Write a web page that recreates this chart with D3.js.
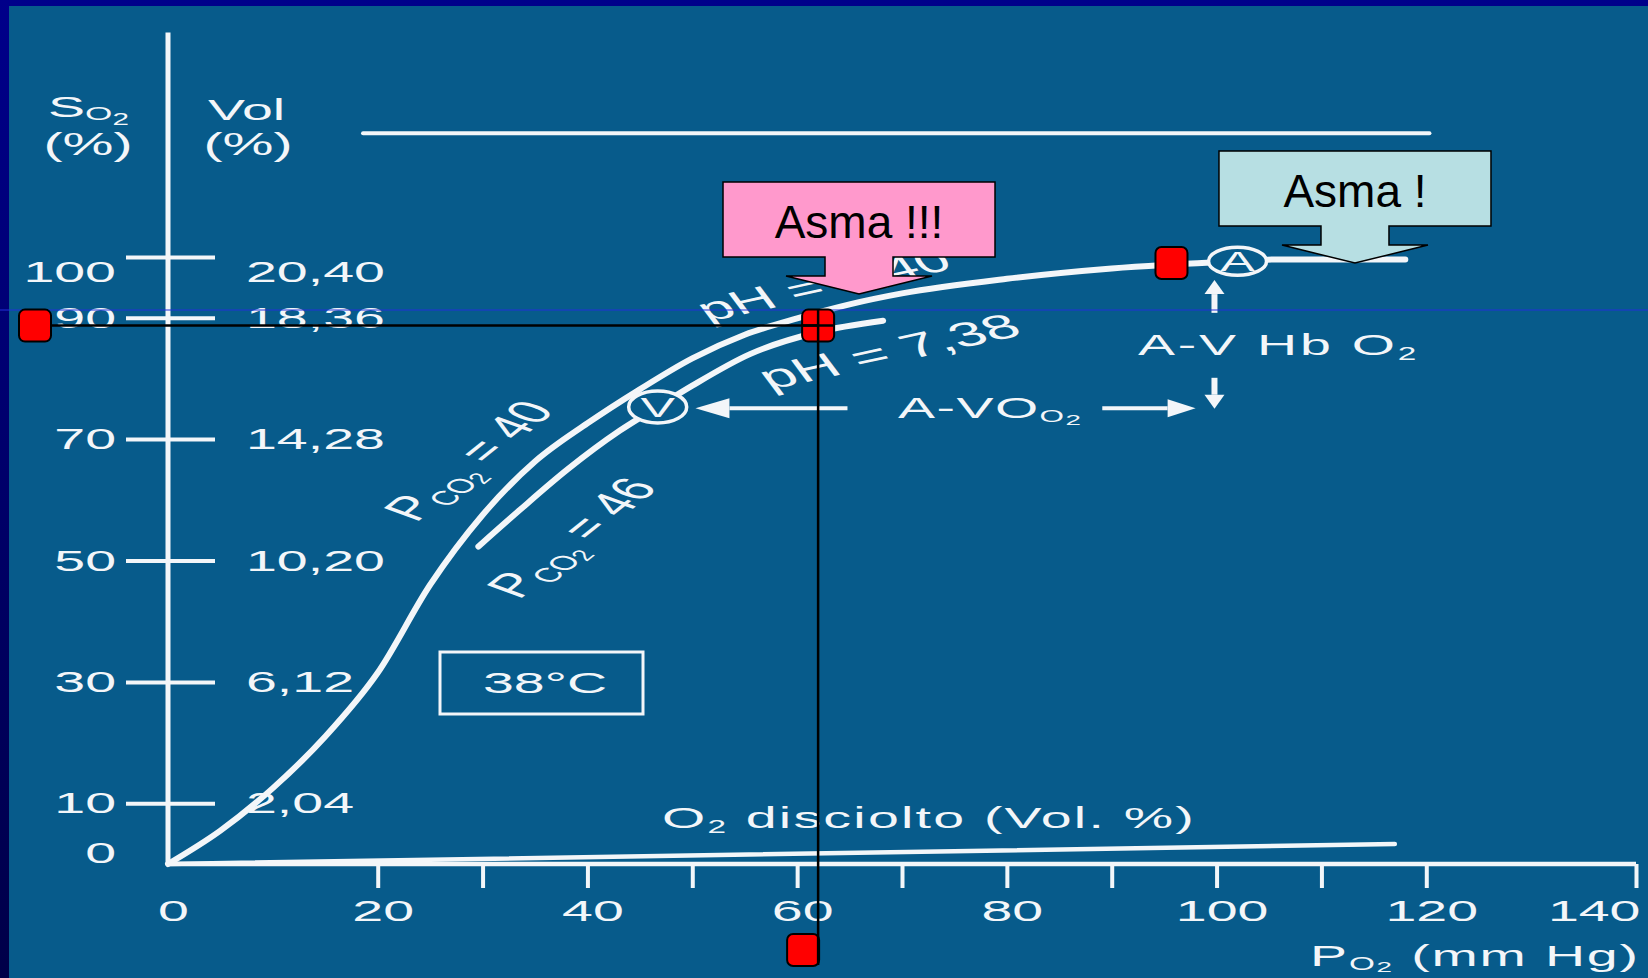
<!DOCTYPE html>
<html>
<head>
<meta charset="utf-8">
<script src="https://cdnjs.cloudflare.com/ajax/libs/d3/7.8.5/d3.min.js"></script>
<style>
html, body { margin: 0; padding: 0; background: #000070; }
svg { display: block; }
text { font-family: "Liberation Sans", Arial, sans-serif; }
</style>
</head>
<body>
<div id="chart"></div>
<script>
// left axis: S O2 (%), right axis: O2 content (Vol %)
var satTicks = [100, 90, 70, 50, 30, 10, 0];
var volLabels = ["20,40", "18,36", "14,28", "10,20", "6,12", "2,04"];
// bottom axis: P O2 (mm Hg)
var po2Ticks = [20, 30, 40, 50, 60, 70, 80, 90, 100, 110, 120, 140];
var po2Labels = [0, 20, 40, 60, 80, 100, 120, 140];

// dissociation curve pH 7,40 / PCO2 40   [PO2, SO2]
var curve740 = [[0, 0], [5, 5.5], [10, 12.5], [15, 21], [20, 31.5], [25, 46], [30, 57.5],
  [35, 66.3], [40, 72.6], [45, 78.2], [50, 83.3], [55, 87.2], [60, 89.9], [65, 92.2],
  [70, 94.0], [80, 96.4], [90, 98.1], [102, 99.3], [106, 99.6], [118, 99.6]];
// dissociation curve pH 7,38 / PCO2 46
var curve738 = [[29.6, 52.3], [33.6, 58.4], [38.1, 65.0], [43.1, 71.4], [46.7, 75.3],
  [50, 78.8], [55.5, 84.0], [61.9, 87.6], [68.2, 89.5]];
// dissolved O2  [PO2, Vol %]
var dissolved = [[0, 0], [117, 0.67]];
var capacityLine = [[18.6, 120.4], [120.3, 120.4]];
var arterial = [102, 99.3];
var venous = [46.7, 75.3];
var avo2Arrows = [[[64.8, 75.1], [50.3, 75.1]], [[89.1, 75.1], [98.0, 75.1]]];
var hbArrows = [[[99.8, 90.8], [99.8, 96.2]], [[99.8, 80.1], [99.8, 75.0]]];
// overlay: reading at 90 % and callouts
var asmaPoint = [62, 88.7];
var asmaTop = [95.7, 99.0];
var callouts = [
  {tip: [65.9, 93.9], text: "Asma !!!", fill: "#ff99cc"},
  {tip: [113.2, 99.0], text: "Asma !", fill: "#b7dfe3"}
];

var W = 1648, H = 978, SX = 1.85, INK = "#f3f6f9", BG = "#075b8b";

var x = d3.scaleLinear().domain([0, 140]).range([168, 1636]);
var y = d3.scaleLinear().domain([0, 100]).range([864, 257]);
var yVol = d3.scaleLinear().domain([0, 20.4]).range([864, 257]);

var svg = d3.select("#chart").append("svg").attr("width", W).attr("height", H);

var grad = svg.append("defs").append("linearGradient").attr("id", "slide")
    .attr("x1", 0).attr("y1", 0).attr("x2", 0).attr("y2", 1);
grad.append("stop").attr("offset", "0%").attr("stop-color", "#00008a");
grad.append("stop").attr("offset", "100%").attr("stop-color", "#000048");
svg.append("rect").attr("width", W).attr("height", H).attr("fill", "url(#slide)");
svg.append("rect").attr("x", 9).attr("y", 6).attr("width", W - 9).attr("height", H - 6).attr("fill", BG);

var g = svg.append("g");

// stretched text like the scanned figure
function sText(px, py, anchor, size) {
    return g.append("text")
        .attr("transform", "translate(" + px + "," + py + ") scale(" + SX + ",1)")
        .attr("text-anchor", anchor).attr("font-size", size).attr("fill", INK);
}
function slant(px, py, angle, size) {
    return g.append("text")
        .attr("transform", "translate(" + px + "," + py + ") scale(" + SX + ",1) rotate(" + angle + ")")
        .attr("font-size", size).attr("fill", INK);
}
function stretchTicks(sel) {
    sel.selectAll("text").each(function() {
        var t = d3.select(this), tx = +t.attr("x") || 0;
        t.attr("x", 0).attr("transform", "translate(" + tx + ",0) scale(" + SX + ",1)");
    });
}
function styleAxis(ga) {
    ga.attr("font-size", 30).attr("font-family", null);
    ga.select(".domain").remove();
    ga.selectAll("line").attr("stroke", INK).attr("stroke-width", 4);
    ga.selectAll("text").attr("fill", INK);
}

// y axis line
g.append("line")
    .attr("x1", x(0)).attr("x2", x(0))
    .attr("y1", y(0)).attr("y2", y(137))
    .attr("stroke", INK).attr("stroke-width", 5);

var gl = g.append("g").attr("transform", "translate(" + x(0) + ",0)")
    .call(d3.axisLeft(y).tickValues(satTicks).tickSize(42).tickPadding(10));
styleAxis(gl);
gl.selectAll(".tick").filter(function(d) { return d === 0; }).select("line").remove();
gl.selectAll("text").attr("dy", function(d) { return d === 100 ? "0.8em" : d === 0 ? "-0.05em" : "0.32em"; });
stretchTicks(gl);

var gr = g.append("g").attr("transform", "translate(" + x(0) + ",0)")
    .call(d3.axisRight(y).tickValues(satTicks.slice(0, 6)).tickSize(47).tickPadding(31)
        .tickFormat(function(d, i) { return volLabels[i]; }));
styleAxis(gr);
gr.selectAll("text").attr("dy", function(d) { return d === 100 ? "0.8em" : "0.32em"; });
stretchTicks(gr);

// x axis
g.append("line")
    .attr("x1", x(0)).attr("x2", x(140))
    .attr("y1", y(0)).attr("y2", y(0))
    .attr("stroke", INK).attr("stroke-width", 4.5);
var gx = g.append("g").attr("transform", "translate(0," + y(0) + ")")
    .call(d3.axisBottom(x).tickValues(po2Ticks).tickSize(24).tickFormat(""));
styleAxis(gx);
var gxl = g.append("g").attr("transform", "translate(0," + y(0) + ")")
    .call(d3.axisBottom(x).tickValues(po2Labels).tickSize(0).tickPadding(36));
styleAxis(gxl);
gxl.selectAll(".tick").select("text").attr("x", 5);
gxl.selectAll(".tick").filter(function(d) { return d === 140; }).select("text")
    .attr("text-anchor", "end").attr("x", 4);
stretchTicks(gxl);

// axis titles
var t = sText(48, 117, "start", 30).text("S");
t.append("tspan").attr("font-size", 19).attr("dy", 3).text("O");
t.append("tspan").attr("font-size", 16).attr("dy", 5).text("2");
sText(88, 155, "middle", 31).text("(%)");
sText(208, 120, "start", 30).text("Vol");
sText(248, 155, "middle", 31).text("(%)");

t = sText(1310, 966, "start", 30).attr("letter-spacing", 1).text("P");
t.append("tspan").attr("font-size", 18).attr("dy", 4).text("O");
t.append("tspan").attr("font-size", 15).attr("dy", 2).text("2");
t.append("tspan").attr("font-size", 30).attr("dy", -6).text(" (mm Hg)");

// capacity line at the top
g.append("line")
    .attr("x1", x(capacityLine[0][0])).attr("y1", y(capacityLine[0][1]))
    .attr("x2", x(capacityLine[1][0])).attr("y2", y(capacityLine[1][1]))
    .attr("stroke", INK).attr("stroke-width", 4).attr("stroke-linecap", "round");

// dissolved O2
g.append("path")
    .datum(dissolved)
    .attr("d", d3.line().x(function(d) { return x(d[0]); }).y(function(d) { return yVol(d[1]); }))
    .attr("fill", "none").attr("stroke", INK).attr("stroke-width", 4.5).attr("stroke-linecap", "round");
t = sText(662, 828, "start", 30).attr("letter-spacing", 1.2).text("O");
t.append("tspan").attr("font-size", 18).attr("dy", 5).text("2");
t.append("tspan").attr("font-size", 30).attr("dy", -5).text(" disciolto (Vol. %)");

// dissociation curves
var line = d3.line()
    .x(function(d) { return x(d[0]); })
    .y(function(d) { return y(d[1]); })
    .curve(d3.curveMonotoneX);
g.append("path").datum(curve740).attr("d", line)
    .attr("fill", "none").attr("stroke", INK).attr("stroke-width", 6).attr("stroke-linecap", "round");
g.append("path").datum(curve738).attr("d", line)
    .attr("fill", "none").attr("stroke", INK).attr("stroke-width", 6).attr("stroke-linecap", "round");

// curve labels
t = slant(416, 523, -56, 33).text("P");
t.append("tspan").attr("font-size", 20).attr("dy", 6).text("CO");
t.append("tspan").attr("font-size", 16).attr("dy", 3).text("2");
t.append("tspan").attr("font-size", 33).attr("dy", -9).text(" = 40");
t = slant(519, 600, -56, 33).text("P");
t.append("tspan").attr("font-size", 20).attr("dy", 6).text("CO");
t.append("tspan").attr("font-size", 16).attr("dy", 3).text("2");
t.append("tspan").attr("font-size", 33).attr("dy", -9).text(" = 46");
slant(708, 322, -22, 33).text("pH = 7,40");
slant(770, 390, -22, 34).text("pH = 7,38");

// 38°C box
g.append("rect").attr("x", 440).attr("y", 652).attr("width", 203).attr("height", 62)
    .attr("fill", "none").attr("stroke", INK).attr("stroke-width", 3);
sText(545, 693, "middle", 30).text("38°C");

// arrows
function arrow(from, to, headLen, headHalf, width) {
    var x1 = x(from[0]), y1 = y(from[1]), x2 = x(to[0]), y2 = y(to[1]);
    var a = Math.atan2(y2 - y1, x2 - x1);
    var bx = x2 - headLen * Math.cos(a), by = y2 - headLen * Math.sin(a);
    g.append("line").attr("x1", x1).attr("y1", y1).attr("x2", bx).attr("y2", by)
        .attr("stroke", INK).attr("stroke-width", width);
    g.append("polygon")
        .attr("points", [[x2, y2],
            [bx + headHalf * Math.sin(a), by - headHalf * Math.cos(a)],
            [bx - headHalf * Math.sin(a), by + headHalf * Math.cos(a)]].join(" "))
        .attr("fill", INK);
}
arrow(avo2Arrows[0][0], avo2Arrows[0][1], 34, 10, 4);
arrow(avo2Arrows[1][0], avo2Arrows[1][1], 28, 9, 4);
arrow(hbArrows[0][0], hbArrows[0][1], 14, 10, 6);
arrow(hbArrows[1][0], hbArrows[1][1], 14, 10, 6);

t = sText(898, 418, "start", 30).attr("letter-spacing", 0.8).text("A-VO");
t.append("tspan").attr("font-size", 17).attr("dy", 4).text("O");
t.append("tspan").attr("font-size", 15).attr("dy", 3).text("2");
t = sText(1138, 355, "start", 30).attr("letter-spacing", 1.5).text("A-V Hb O");
t.append("tspan").attr("font-size", 18).attr("dy", 5).text("2");

// points A and V
[[arterial, "A", 14], [venous, "V", 16]].forEach(function(p) {
    var cx = x(p[0][0]), cy = y(p[0][1]);
    g.append("ellipse").attr("cx", cx).attr("cy", cy).attr("rx", 29).attr("ry", p[2])
        .attr("fill", BG).attr("stroke", INK).attr("stroke-width", 3.5);
    sText(cx, cy + 10, "middle", 28).text(p[1]);
});

// thin blue guide line
svg.append("line").attr("x1", 0).attr("x2", W).attr("y1", 310).attr("y2", 310)
    .attr("stroke", "#2230d8").attr("stroke-width", 1);

// callouts
callouts.forEach(function(c) {
    var tx = x(c.tip[0]), ty = y(c.tip[1]);
    var by1 = ty - 37, by0 = by1 - 75;
    var p = "M" + (tx - 136) + "," + by0 + "H" + (tx + 136) + "V" + by1 +
        "H" + (tx + 34) + "V" + (ty - 18) + "H" + (tx + 73) + "L" + tx + "," + ty +
        "L" + (tx - 73) + "," + (ty - 18) + "H" + (tx - 34) + "V" + by1 + "H" + (tx - 136) + "Z";
    svg.append("path").attr("d", p).attr("fill", c.fill).attr("stroke", "#000").attr("stroke-width", 1.5);
    svg.append("text").attr("x", tx).attr("y", by0 + 56).attr("text-anchor", "middle")
        .attr("font-size", 46).attr("fill", "#000").text(c.text);
});

// reading at 90 %: red markers and guide lines
var mx = x(asmaPoint[0]), my = y(asmaPoint[1]);
function marker(cx, cy) {
    svg.append("rect").attr("x", cx - 16).attr("y", cy - 16).attr("width", 32).attr("height", 32)
        .attr("rx", 6).attr("fill", "#ff0000").attr("stroke", "#000").attr("stroke-width", 2);
}
marker(35, my);
marker(mx, my);
marker(mx - 15, 950);
marker(x(asmaTop[0]), y(asmaTop[1]));
svg.append("line").attr("x1", 51).attr("x2", mx).attr("y1", my).attr("y2", my)
    .attr("stroke", "#000").attr("stroke-width", 2.5);
svg.append("line").attr("x1", mx).attr("x2", mx).attr("y1", my - 16).attr("y2", 965)
    .attr("stroke", "#000").attr("stroke-width", 2.5);
svg.append("line").attr("x1", mx - 16).attr("x2", mx + 16).attr("y1", my).attr("y2", my)
    .attr("stroke", "#000").attr("stroke-width", 2.5);
</script>
</body>
</html>
